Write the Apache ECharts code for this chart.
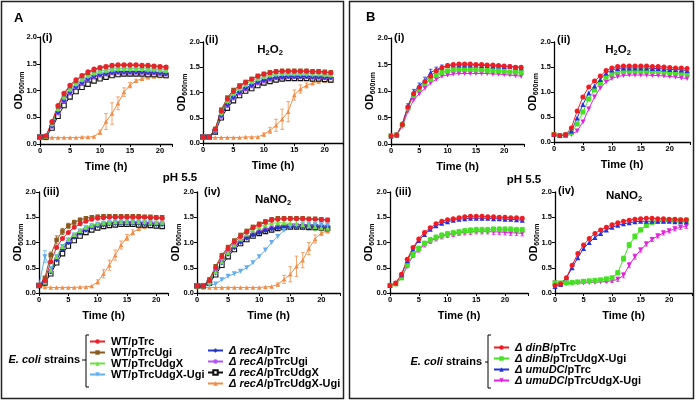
<!DOCTYPE html>
<html><head><meta charset="utf-8">
<script src="https://cdn.jsdelivr.net/npm/echarts@6/dist/echarts.min.js"></script>
<style>html,body{margin:0;padding:0;background:#fff}#c{width:696px;height:402px}</style>
</head><body><div id="c"></div>
<script>
// ---------- DATA ----------
const timeA = [0,1,2,3,4,5,6,7,8,9,10,11,12,13,14,15,16,17,18,19,20,21];
const timeB = [0,1,2,3,4,5,6,7,8,9,10,11,12,13,14,15,16,17,18,19,20,21,22,23];
const xTicks = [0,5,10,15,20];
const yTicks = [0.0,0.5,1.0,1.5,2.0];

// Panel A (i) untreated
const A1_WT        = [0.13,0.15,0.42,0.72,0.95,1.10,1.20,1.28,1.35,1.40,1.43,1.45,1.47,1.48,1.48,1.48,1.48,1.47,1.47,1.46,1.45,1.44];
const A1_WTUgi     = [0.13,0.15,0.40,0.70,0.93,1.08,1.18,1.27,1.33,1.38,1.42,1.44,1.46,1.47,1.47,1.47,1.47,1.46,1.46,1.45,1.44,1.43];
const A1_WTUdgX    = [0.13,0.14,0.38,0.66,0.88,1.03,1.13,1.21,1.28,1.33,1.36,1.38,1.40,1.41,1.41,1.41,1.41,1.41,1.40,1.40,1.39,1.38];
const A1_WTUdgXUgi = [0.13,0.14,0.36,0.63,0.85,1.00,1.10,1.18,1.25,1.30,1.33,1.35,1.37,1.38,1.38,1.38,1.38,1.38,1.37,1.37,1.36,1.35];
const A1_rec       = [0.13,0.14,0.34,0.60,0.82,0.97,1.07,1.15,1.22,1.27,1.30,1.32,1.34,1.35,1.35,1.35,1.35,1.35,1.34,1.34,1.33,1.32];
const A1_recUgi    = [0.13,0.14,0.33,0.58,0.80,0.96,1.06,1.14,1.21,1.26,1.29,1.31,1.33,1.34,1.34,1.34,1.34,1.34,1.33,1.33,1.32,1.31];
const A1_recUdgX   = [0.13,0.13,0.30,0.52,0.72,0.88,0.98,1.06,1.12,1.18,1.22,1.25,1.28,1.30,1.31,1.31,1.31,1.31,1.30,1.30,1.29,1.28];
const A1_recUdgXUgi= [0.13,0.11,0.12,0.12,0.12,0.12,0.12,0.13,0.13,0.14,0.22,0.42,0.57,0.76,0.97,1.10,1.18,1.22,1.25,1.26,1.27,1.27];
const A1_recUdgXUgi_err = [0,0,0,0,0,0,0,0,0,0,0.04,0.15,0.2,0.12,0.08,0.05,0.03,0.02,0.02,0.02,0.02,0.02];

// Panel A (ii) H2O2
const A2_WT        = [0.12,0.12,0.27,0.63,0.87,1.02,1.12,1.20,1.26,1.32,1.36,1.39,1.41,1.42,1.42,1.42,1.42,1.42,1.41,1.41,1.40,1.39];
const A2_WTUgi     = [0.12,0.12,0.28,0.66,0.90,1.05,1.14,1.21,1.27,1.33,1.37,1.40,1.42,1.43,1.43,1.43,1.43,1.43,1.42,1.42,1.41,1.40];
const A2_WTUdgX    = [0.12,0.12,0.26,0.60,0.84,0.99,1.09,1.17,1.23,1.28,1.32,1.35,1.37,1.38,1.38,1.38,1.38,1.38,1.37,1.37,1.36,1.35];
const A2_WTUdgXUgi = [0.12,0.12,0.25,0.57,0.80,0.95,1.05,1.13,1.19,1.25,1.29,1.32,1.34,1.35,1.35,1.35,1.35,1.35,1.34,1.34,1.33,1.33];
const A2_rec       = [0.12,0.12,0.24,0.55,0.76,0.91,1.01,1.09,1.15,1.21,1.25,1.28,1.30,1.31,1.32,1.32,1.32,1.32,1.31,1.31,1.30,1.30];
const A2_recUgi    = [0.12,0.12,0.23,0.53,0.74,0.89,0.99,1.07,1.13,1.19,1.23,1.26,1.29,1.30,1.31,1.31,1.31,1.31,1.30,1.30,1.29,1.29];
const A2_recUdgX   = [0.12,0.12,0.22,0.50,0.69,0.84,0.94,1.03,1.08,1.14,1.19,1.22,1.25,1.27,1.28,1.28,1.28,1.28,1.27,1.27,1.26,1.25];
const A2_recUdgXUgi= [0.12,0.11,0.11,0.11,0.11,0.11,0.11,0.12,0.12,0.12,0.17,0.25,0.35,0.47,0.62,0.95,1.07,1.14,1.19,1.22,1.24,1.24];
const A2_recUdgXUgi_err = [0,0,0,0,0,0,0,0,0,0,0.03,0.06,0.12,0.2,0.2,0.1,0.08,0.05,0.04,0.03,0.03,0.03];

// Panel A (iii) pH 5.5
const A3_WT        = [0.15,0.25,0.62,0.90,1.08,1.20,1.30,1.37,1.42,1.46,1.48,1.49,1.50,1.50,1.50,1.50,1.50,1.50,1.50,1.49,1.49,1.48];
const A3_WTUgi     = [0.15,0.30,0.75,1.05,1.22,1.33,1.40,1.45,1.48,1.50,1.51,1.52,1.52,1.52,1.52,1.52,1.52,1.52,1.51,1.51,1.50,1.50];
const A3_WTUdgX    = [0.15,0.22,0.45,0.72,0.92,1.06,1.16,1.24,1.30,1.34,1.37,1.39,1.40,1.41,1.41,1.41,1.41,1.41,1.41,1.40,1.40,1.40];
const A3_WTUdgXUgi = [0.15,0.72,0.48,0.72,0.92,1.05,1.15,1.23,1.29,1.33,1.36,1.38,1.39,1.40,1.40,1.40,1.40,1.40,1.39,1.39,1.38,1.38];
const A3_rec       = [0.15,0.21,0.42,0.66,0.86,1.00,1.11,1.19,1.25,1.30,1.33,1.35,1.37,1.38,1.38,1.38,1.38,1.38,1.37,1.37,1.36,1.36];
const A3_recUgi    = [0.15,0.22,0.43,0.68,0.88,1.02,1.13,1.21,1.27,1.32,1.35,1.37,1.39,1.40,1.40,1.40,1.40,1.40,1.39,1.39,1.38,1.38];
const A3_recUdgX   = [0.15,0.20,0.38,0.60,0.78,0.93,1.04,1.13,1.20,1.25,1.29,1.32,1.34,1.35,1.36,1.36,1.36,1.35,1.35,1.34,1.33,1.32];
const A3_recUdgXUgi= [0.15,0.12,0.11,0.11,0.11,0.11,0.11,0.12,0.12,0.14,0.22,0.38,0.55,0.75,0.95,1.10,1.20,1.27,1.31,1.33,1.34,1.33];
const A3_recUdgXUgi_err = [0,0,0,0,0,0,0,0,0,0,0.04,0.08,0.1,0.1,0.08,0.06,0.05,0.03,0.02,0.02,0.02,0.02];
const A3_WTUdgXUgi_err  = [0,0.12,0.04,0,0,0,0,0,0,0,0,0,0,0,0,0,0,0,0,0,0,0];
const A3_WTUgi_err      = [0,0.03,0.06,0.08,0.06,0.05,0.04,0.03,0.03,0.03,0.03,0.03,0.03,0.03,0.03,0.03,0.03,0.03,0.02,0.02,0.02,0.02];

// Panel A (iv) NaNO2
const A4_WT        = [0.14,0.14,0.25,0.50,0.72,0.88,1.01,1.12,1.21,1.29,1.35,1.40,1.44,1.46,1.47,1.47,1.47,1.47,1.46,1.46,1.45,1.44];
const A4_WTUgi     = [0.14,0.14,0.27,0.53,0.75,0.91,1.04,1.15,1.23,1.31,1.37,1.42,1.46,1.48,1.48,1.48,1.48,1.48,1.47,1.47,1.46,1.45];
const A4_WTUdgX    = [0.14,0.14,0.22,0.42,0.62,0.80,0.95,1.07,1.17,1.25,1.31,1.35,1.38,1.39,1.39,1.38,1.37,1.35,1.33,1.31,1.29,1.28];
const A4_WTUdgXUgi = [0.14,0.14,0.15,0.18,0.26,0.33,0.38,0.43,0.50,0.60,0.72,0.85,1.00,1.12,1.24,1.32,1.34,1.35,1.35,1.35,1.35,1.34];
const A4_rec       = [0.14,0.14,0.21,0.40,0.60,0.77,0.90,1.01,1.09,1.15,1.20,1.24,1.27,1.29,1.31,1.32,1.32,1.32,1.31,1.31,1.30,1.30];
const A4_recUgi    = [0.14,0.14,0.22,0.42,0.62,0.80,0.93,1.03,1.11,1.17,1.22,1.26,1.29,1.31,1.32,1.33,1.33,1.33,1.32,1.32,1.31,1.31];
const A4_recUdgX   = [0.14,0.14,0.20,0.36,0.55,0.72,0.86,0.98,1.06,1.13,1.18,1.22,1.25,1.28,1.30,1.31,1.31,1.31,1.30,1.30,1.29,1.28];
const A4_recUdgXUgi= [0.12,0.11,0.11,0.11,0.11,0.11,0.11,0.11,0.11,0.11,0.11,0.12,0.13,0.17,0.27,0.37,0.53,0.65,0.88,1.07,1.19,1.23];
const A4_recUdgXUgi_err = [0,0,0,0,0,0,0,0,0,0,0,0,0,0.03,0.08,0.15,0.2,0.15,0.12,0.08,0.05,0.04];
const A4_WTUdgX_err     = [0,0,0,0,0,0,0,0,0.04,0.05,0.05,0.05,0.06,0.06,0.06,0.06,0.07,0.07,0.07,0.08,0.08,0.08];

// Panel B (i) untreated
const B1_dinB   = [0.15,0.17,0.37,0.70,0.95,1.07,1.18,1.28,1.38,1.44,1.48,1.50,1.51,1.51,1.51,1.50,1.50,1.49,1.49,1.48,1.47,1.46,1.45,1.45];
const B1_dinBUU = [0.15,0.17,0.36,0.68,0.92,1.04,1.14,1.22,1.30,1.35,1.38,1.40,1.41,1.41,1.41,1.40,1.40,1.39,1.39,1.38,1.37,1.36,1.36,1.35];
const B1_umu    = [0.15,0.17,0.38,0.72,0.98,1.10,1.20,1.35,1.40,1.45,1.48,1.49,1.49,1.49,1.49,1.49,1.48,1.48,1.47,1.47,1.46,1.46,1.45,1.44];
const B1_umuUU  = [0.15,0.17,0.33,0.62,0.83,0.95,1.05,1.15,1.22,1.28,1.30,1.32,1.33,1.33,1.33,1.33,1.33,1.33,1.32,1.32,1.31,1.30,1.29,1.28];
const B1_umu_err= [0,0.02,0.03,0.04,0.05,0.05,0.06,0.06,0.05,0.04,0.03,0.03,0.03,0.03,0.03,0.03,0.03,0.03,0.03,0.03,0.03,0.03,0.03,0.03];

// Panel B (ii) H2O2
const B2_dinB   = [0.15,0.13,0.15,0.28,0.62,0.90,1.10,1.22,1.32,1.43,1.48,1.51,1.52,1.52,1.52,1.52,1.52,1.51,1.51,1.50,1.49,1.48,1.48,1.47];
const B2_dinBUU = [0.15,0.13,0.14,0.19,0.36,0.60,0.86,1.04,1.18,1.30,1.36,1.40,1.41,1.42,1.42,1.42,1.42,1.41,1.41,1.40,1.39,1.38,1.37,1.36];
const B2_umu    = [0.15,0.13,0.14,0.22,0.48,0.75,0.98,1.12,1.25,1.38,1.44,1.47,1.48,1.48,1.48,1.48,1.48,1.47,1.47,1.46,1.45,1.45,1.44,1.43];
const B2_umuUU  = [0.15,0.13,0.13,0.15,0.22,0.40,0.66,0.90,1.08,1.20,1.27,1.31,1.33,1.34,1.34,1.34,1.34,1.33,1.33,1.32,1.31,1.30,1.28,1.27];

// Panel B (iii) pH 5.5
const B3_dinB   = [0.15,0.20,0.37,0.67,0.90,1.07,1.20,1.29,1.37,1.42,1.45,1.47,1.49,1.51,1.52,1.52,1.52,1.51,1.51,1.50,1.50,1.49,1.49,1.48];
const B3_dinBUU = [0.15,0.18,0.30,0.55,0.76,0.88,0.98,1.05,1.10,1.14,1.17,1.19,1.21,1.23,1.24,1.25,1.25,1.25,1.26,1.26,1.26,1.26,1.25,1.25];
const B3_umu    = [0.15,0.20,0.36,0.64,0.87,1.04,1.16,1.26,1.33,1.38,1.41,1.44,1.46,1.47,1.48,1.48,1.48,1.48,1.47,1.47,1.46,1.46,1.45,1.44];
const B3_umuUU  = [0.15,0.18,0.30,0.53,0.74,0.86,0.96,1.03,1.08,1.12,1.15,1.17,1.19,1.20,1.21,1.22,1.22,1.22,1.21,1.21,1.20,1.19,1.19,1.18];
const B3_uu_err = [0,0.01,0.02,0.03,0.04,0.05,0.05,0.05,0.05,0.05,0.05,0.05,0.05,0.05,0.05,0.05,0.05,0.05,0.05,0.05,0.05,0.05,0.05,0.05];

// Panel B (iv) NaNO2
const B4_dinB   = [0.15,0.18,0.30,0.55,0.78,0.95,1.08,1.18,1.25,1.30,1.35,1.39,1.42,1.44,1.46,1.47,1.48,1.48,1.47,1.47,1.46,1.46,1.45,1.45];
const B4_dinBUU = [0.20,0.20,0.20,0.21,0.22,0.23,0.24,0.25,0.26,0.28,0.30,0.40,0.68,0.95,1.12,1.25,1.34,1.40,1.42,1.43,1.44,1.44,1.44,1.44];
const B4_umu    = [0.13,0.17,0.30,0.50,0.70,0.88,1.00,1.10,1.18,1.25,1.30,1.34,1.37,1.39,1.41,1.42,1.42,1.42,1.42,1.42,1.42,1.41,1.41,1.41];
const B4_umuUU  = [0.20,0.19,0.19,0.19,0.20,0.20,0.21,0.21,0.22,0.23,0.24,0.27,0.35,0.55,0.72,0.85,0.97,1.06,1.13,1.19,1.23,1.27,1.30,1.32];
const B4_err    = [0,0,0,0,0,0,0,0,0,0.02,0.03,0.04,0.05,0.05,0.05,0.04,0.04,0.04,0.04,0.04,0.04,0.04,0.04,0.04];

// ---------- STYLE / LAYOUT ----------
const FONT = '"Liberation Sans", Arial, Helvetica, sans-serif';
const strainA = {
  WT:        {name:'WT/pTrc',               color:'#e8232b', symbol:'circle',   size:5},
  WTUgi:     {name:'WT/pTrcUgi',            color:'#8c5a1e', symbol:'rect',     size:4.5},
  WTUdgX:    {name:'WT/pTrcUdgX',           color:'#6ee044', symbol:'triangle', size:5},
  WTUdgXUgi: {name:'WT/pTrcUdgX-Ugi',       color:'#62aef0', symbol:'triangle', size:5, rot:180},
  rec:       {name:'Δ recA/pTrc',           color:'#2636c8', symbol:'diamond',  size:5.5},
  recUgi:    {name:'Δ recA/pTrcUgi',        color:'#b455f2', symbol:'circle',   size:5},
  recUdgX:   {name:'Δ recA/pTrcUdgX',       color:'#111111', symbol:'rect',     size:4.5, open:true},
  recUdgXUgi:{name:'Δ recA/pTrcUdgX-Ugi',   color:'#f28c46', symbol:'triangle', size:4.5}
};
const strainB = {
  dinB:   {name:'Δ dinB/pTrc',           color:'#f01c24', symbol:'circle',   size:5},
  dinBUU: {name:'Δ dinB/pTrcUdgX-Ugi',   color:'#46e024', symbol:'rect',     size:5},
  umu:    {name:'Δ umuDC/pTrc',          color:'#2232e0', symbol:'triangle', size:5},
  umuUU:  {name:'Δ umuDC/pTrcUdgX-Ugi',  color:'#e424dc', symbol:'triangle', size:5, rot:180}
};

const grids = [
  {left:40,  top:37,  width:132, height:107, xmax:22},
  {left:203, top:42,  width:140, height:101, xmax:23},
  {left:39,  top:192, width:129, height:101, xmax:22},
  {left:197, top:192, width:143, height:101, xmax:23},
  {left:391, top:38,  width:133, height:106, xmax:23.5},
  {left:554, top:42,  width:136, height:100, xmax:23.5},
  {left:390, top:192, width:138, height:101, xmax:24},
  {left:555, top:192, width:137, height:101, xmax:24}
];

const panelsA = [
  {WT:A1_WT,WTUgi:A1_WTUgi,WTUdgX:A1_WTUdgX,WTUdgXUgi:A1_WTUdgXUgi,rec:A1_rec,recUgi:A1_recUgi,recUdgX:A1_recUdgX,recUdgXUgi:A1_recUdgXUgi},
  {WT:A2_WT,WTUgi:A2_WTUgi,WTUdgX:A2_WTUdgX,WTUdgXUgi:A2_WTUdgXUgi,rec:A2_rec,recUgi:A2_recUgi,recUdgX:A2_recUdgX,recUdgXUgi:A2_recUdgXUgi},
  {WT:A3_WT,WTUgi:A3_WTUgi,WTUdgX:A3_WTUdgX,WTUdgXUgi:A3_WTUdgXUgi,rec:A3_rec,recUgi:A3_recUgi,recUdgX:A3_recUdgX,recUdgXUgi:A3_recUdgXUgi},
  {WT:A4_WT,WTUgi:A4_WTUgi,WTUdgX:A4_WTUdgX,WTUdgXUgi:A4_WTUdgXUgi,rec:A4_rec,recUgi:A4_recUgi,recUdgX:A4_recUdgX,recUdgXUgi:A4_recUdgXUgi}
];
const errsA = [
  {recUdgXUgi:A1_recUdgXUgi_err},
  {recUdgXUgi:A2_recUdgXUgi_err},
  {recUdgXUgi:A3_recUdgXUgi_err, WTUdgXUgi:A3_WTUdgXUgi_err, WTUgi:A3_WTUgi_err},
  {recUdgXUgi:A4_recUdgXUgi_err, WTUdgX:A4_WTUdgX_err}
];
const panelsB = [
  {dinB:B1_dinB,dinBUU:B1_dinBUU,umu:B1_umu,umuUU:B1_umuUU},
  {dinB:B2_dinB,dinBUU:B2_dinBUU,umu:B2_umu,umuUU:B2_umuUU},
  {dinB:B3_dinB,dinBUU:B3_dinBUU,umu:B3_umu,umuUU:B3_umuUU},
  {dinB:B4_dinB,dinBUU:B4_dinBUU,umu:B4_umu,umuUU:B4_umuUU}
];
const errsB = [
  {umu:B1_umu_err},
  {},
  {dinBUU:B3_uu_err, umuUU:B3_uu_err},
  {dinBUU:B4_err, umuUU:B4_err}
];
const orderA = ['recUdgXUgi','recUdgX','recUgi','rec','WTUdgXUgi','WTUdgX','WTUgi','WT'];
const orderB = ['umuUU','dinBUU','umu','dinB'];

// ---------- BUILD ----------
const xAxis = [], yAxis = [], lineSeries = [], errSeries = [];
grids.forEach((g, i) => {
  xAxis.push({
    type:'value', gridIndex:i, min:0, max:g.xmax, interval:5,
    axisLine:{show:true, lineStyle:{color:'#000', width:1.3}},
    axisTick:{show:true, length:3, lineStyle:{color:'#000', width:1}},
    axisLabel:{fontSize:7.5, fontWeight:'bold', color:'#000', margin:3, fontFamily:FONT,
      formatter:v => xTicks.includes(v) ? String(v) : ''},
    splitLine:{show:false},
    name:'Time (h)', nameLocation:'middle', nameGap:17, nameMoveOverlap:false,
    nameTextStyle:{fontSize:11, fontWeight:'bold', color:'#000', fontFamily:FONT}
  });
  yAxis.push({
    type:'value', gridIndex:i, min:0, max:2, interval:0.5,
    axisLine:{show:true, lineStyle:{color:'#000', width:1.3}},
    axisTick:{show:true, length:3, lineStyle:{color:'#000', width:1}},
    axisLabel:{fontSize:7.5, fontWeight:'bold', color:'#000', margin:3, fontFamily:FONT,
      formatter:v => yTicks.includes(v) ? v.toFixed(1) : ''},
    splitLine:{show:false},
    name:'{a|OD}{b|600nm}', nameLocation:'middle', nameRotate:90, nameGap:14, nameMoveOverlap:false,
    nameTextStyle:{fontFamily:FONT, color:'#000', rich:{
      a:{fontSize:10.5, fontWeight:'bold', color:'#000', fontFamily:FONT},
      b:{fontSize:7, fontWeight:'bold', color:'#000', fontFamily:FONT, padding:[6,0,0,0]}
    }}
  });
});
const grid = grids.map(g => ({left:g.left, top:g.top, width:g.width, height:g.height}));

function renderErr(params, api) {
  const x = api.value(0), lo = api.value(1), hi = api.value(2);
  const p1 = api.coord([x, lo]), p2 = api.coord([x, hi]);
  const c = api.visual('color'), w = 1.8;
  const st = {stroke:c, lineWidth:0.8};
  return {type:'group', children:[
    {type:'line', shape:{x1:p1[0], y1:p1[1], x2:p2[0], y2:p2[1]}, style:st},
    {type:'line', shape:{x1:p1[0]-w, y1:p1[1], x2:p1[0]+w, y2:p1[1]}, style:st},
    {type:'line', shape:{x1:p2[0]-w, y1:p2[1], x2:p2[0]+w, y2:p2[1]}, style:st}
  ]};
}

function addSeries(gi, st, times, vals, errs) {
  lineSeries.push({
    type:'line', name:st.name, xAxisIndex:gi, yAxisIndex:gi,
    data: times.map((t, k) => [t, vals[k]]),
    symbol:st.symbol, symbolSize:st.size, symbolRotate:st.rot || 0, showAllSymbol:true,
    lineStyle:{color:st.color, width:1},
    itemStyle: st.open ? {color:'#ffffff', borderColor:st.color, borderWidth:1.1} : {color:st.color, borderWidth:0},
    animation:false, silent:true, z:3
  });
  if (errs) {
    const d = [];
    times.forEach((t, k) => { if (errs[k] > 0) d.push([t, vals[k]-errs[k], vals[k]+errs[k]]); });
    errSeries.push({type:'custom', name:st.name + ' SD', xAxisIndex:gi, yAxisIndex:gi, renderItem:renderErr,
      itemStyle:{color:st.color}, encode:{x:0, y:[1,2]}, data:d, silent:true, z:2});
  }
}
panelsA.forEach((p, pi) => orderA.forEach(k => addSeries(pi, strainA[k], timeA, p[k], errsA[pi][k])));
panelsB.forEach((p, pi) => orderB.forEach(k => addSeries(4+pi, strainB[k], timeB, p[k], errsB[pi][k])));

const legFmt = n => n.startsWith('Δ') ? n.replace(/^(Δ \w+)(\/.*)$/, '{it|$1}$2') : n;
function legend(names, left, top, lh) {
  return {
    data:names, left:left, top:top, orient:'vertical', itemGap:0, itemWidth:15, itemHeight:5.5,
    selectedMode:false, padding:0, formatter:legFmt,
    textStyle:{fontSize:11, fontWeight:'bold', color:'#000', fontFamily:FONT, lineHeight:lh, padding:[0,0,0,1],
      rich:{it:{fontSize:11, fontWeight:'bold', fontStyle:'italic', color:'#000', fontFamily:FONT, lineHeight:lh}}}
  };
}

const T = (x, y, text, size, align, extra) => ({
  type:'text', x:x, y:y, silent:true,
  style:Object.assign({text:text, fill:'#000', fontSize:size, fontWeight:'bold', fontFamily:FONT,
    align:align || 'left', verticalAlign:'middle'}, extra || {})
});
const subRich = {s:{fontSize:7.5, fontWeight:'bold', fontFamily:FONT, fill:'#000', padding:[6,0,0,0]}};
const bracket = (x, y1, y2, ym, hook, tick) => ({
  type:'group', silent:true, children:[
    {type:'polyline', shape:{points:[[x+hook,y1],[x,y1],[x,y2],[x+hook,y2]]}, style:{stroke:'#000', lineWidth:1, fill:null}},
    {type:'line', shape:{x1:x, y1:ym, x2:x-tick, y2:ym}, style:{stroke:'#000', lineWidth:1}}
  ]
});

const graphic = [
  {type:'rect', shape:{x:1.5, y:1.5, width:342, height:397}, style:{fill:null, stroke:'#222', lineWidth:1.5}, silent:true},
  {type:'rect', shape:{x:349.5, y:1.5, width:344, height:397}, style:{fill:null, stroke:'#222', lineWidth:1.5}, silent:true},
  T(14, 18, 'A', 13), T(366, 17, 'B', 13),
  T(42, 38, '(i)', 11), T(205, 40, '(ii)', 11), T(43, 192, '(iii)', 11), T(204, 192, '(iv)', 11),
  T(394, 38, '(i)', 11), T(557, 40, '(ii)', 11), T(395, 192, '(iii)', 11), T(558, 191, '(iv)', 11),
  T(270, 50, 'H{s|2}O{s|2}', 11.5, 'center', {rich:subRich}),
  T(618, 50, 'H{s|2}O{s|2}', 11.5, 'center', {rich:subRich}),
  T(273, 200, 'NaNO{s|2}', 11.5, 'center', {rich:subRich}),
  T(624, 196, 'NaNO{s|2}', 11.5, 'center', {rich:subRich}),
  T(180, 178, 'pH 5.5', 11.5, 'center'),
  T(524, 180, 'pH 5.5', 11.5, 'center'),
  T(80, 360, '{i|E. coli} strains', 11, 'right', {rich:{i:{fontSize:11, fontWeight:'bold', fontStyle:'italic', fontFamily:FONT, fill:'#000'}}}),
  T(482, 362, '{i|E. coli} strains', 11, 'right', {rich:{i:{fontSize:11, fontWeight:'bold', fontStyle:'italic', fontFamily:FONT, fill:'#000'}}}),
  bracket(86, 335, 387, 360, 3, 4),
  bracket(488, 335, 388, 362, 3, 3)
];

const chart = echarts.init(document.getElementById('c'), null, {renderer:'canvas'});
chart.setOption({
  backgroundColor:'#ffffff',
  animation:false,
  grid:grid, xAxis:xAxis, yAxis:yAxis, series:lineSeries.concat(errSeries),
  legend:[
    legend(orderA.slice().reverse().slice(0,4).map(k => strainA[k].name), 89, 336, 9.6),
    legend(orderA.slice().reverse().slice(4).map(k => strainA[k].name), 207, 345, 9.7),
    legend(['Δ dinB/pTrc','Δ dinB/pTrcUdgX-Ugi','Δ umuDC/pTrc','Δ umuDC/pTrcUdgX-Ugi'], 493, 342, 10.6)
  ],
  graphic:graphic
});
</script></body></html>
